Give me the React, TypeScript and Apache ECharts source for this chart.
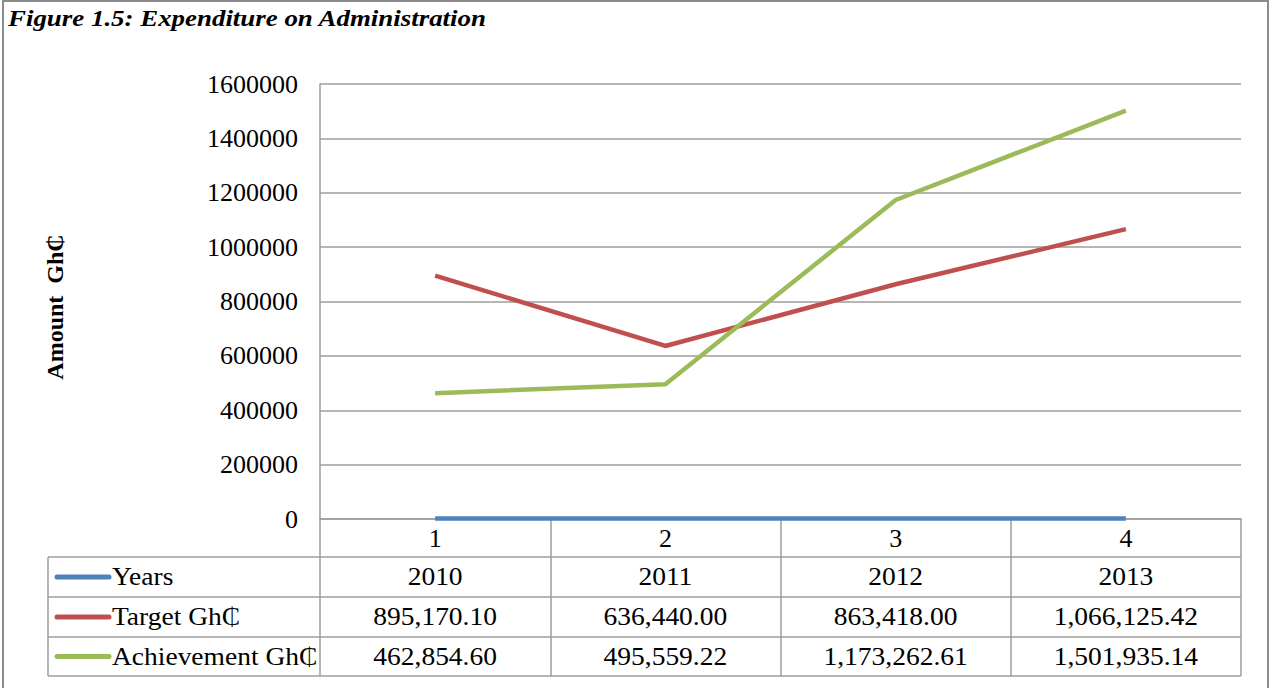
import { useEffect, useRef } from "react";
import * as echarts from "echarts";

// ---- data ----
const titleText = "Figure 1.5: Expenditure on Administration";
const yAxisName = "Amount  Gh\u20B5";
const categories = ["1", "2", "3", "4"];
const seriesNames = ["Years", "Target Gh\u20B5", "Achievement Gh\u20B5"];
const years = [2010, 2011, 2012, 2013];
const target = [895170.1, 636440.0, 863418.0, 1066125.42];
const achievement = [462854.6, 495559.22, 1173262.61, 1501935.14];
const yMin = 0;
const yMax = 1600000;
const yInterval = 200000;
const colors = ["#4F81BD", "#C0504D", "#9BBB59"];

// ---- layout ----
const W = 1270;
const H = 688;
const FONT = "'Liberation Serif', 'Times New Roman', 'DejaVu Serif', serif";
const PLOT_L = 320;
const PLOT_R = 1241;
const PLOT_T = 84;
const PLOT_B = 519;
const TABLE_L = 48;
const ROW_Y = [557, 597, 637, 676];
const GRID_COLOR = "#9d9d9d";
const STRETCH = 1.1;

const fmtMoney = (v: number) =>
  v.toLocaleString("en-US", { minimumFractionDigits: 2, maximumFractionDigits: 2 });

export default function App() {
  const ref = useRef<HTMLDivElement>(null);

  useEffect(() => {
    document.body.style.margin = "0";
    if (!ref.current) return;
    const chart = echarts.init(ref.current, undefined, { renderer: "svg" });

    const allSeries = [years, target, achievement];
    const rowTexts = [
      years.map((v) => String(v)),
      target.map(fmtMoney),
      achievement.map(fmtMoney),
    ];
    const colW = (PLOT_R - PLOT_L) / categories.length;

    const graphics: any[] = [];
    // outer frame
    graphics.push({
      type: "rect",
      shape: { x: 3, y: 1, width: 1265, height: 720 },
      style: { fill: "none", stroke: "#8c8c8c", lineWidth: 2 },
      silent: true,
    });
    // title
    graphics.push({
      type: "text",
      x: 8,
      y: 18,
      scaleX: 1.17,
      style: {
        text: titleText,
        fontFamily: FONT,
        fontSize: 23,
        fontStyle: "italic",
        fontWeight: "bold",
        fill: "#000",
        verticalAlign: "middle",
      },
    });
    // y axis name
    graphics.push({
      type: "text",
      x: 55,
      y: 307,
      rotation: Math.PI / 2,
      style: {
        text: yAxisName,
        fontFamily: FONT,
        fontSize: 24,
        fontWeight: "bold",
        fill: "#000",
        align: "center",
        verticalAlign: "middle",
      },
    });
    // table horizontal lines
    ROW_Y.forEach((y) => {
      graphics.push({
        type: "line",
        shape: { x1: TABLE_L, y1: y, x2: PLOT_R, y2: y },
        style: { stroke: GRID_COLOR, lineWidth: 1.5 },
      });
    });
    // table left border
    graphics.push({
      type: "line",
      shape: { x1: TABLE_L, y1: ROW_Y[0], x2: TABLE_L, y2: ROW_Y[ROW_Y.length - 1] },
      style: { stroke: GRID_COLOR, lineWidth: 1.5 },
    });
    // rows
    seriesNames.forEach((name, r) => {
      const cy = (ROW_Y[r] + ROW_Y[r + 1]) / 2;
      graphics.push({
        type: "line",
        shape: { x1: 57, y1: cy, x2: 109, y2: cy },
        style: { stroke: colors[r], lineWidth: 5, lineCap: "round" },
      });
      graphics.push({
        type: "text",
        x: 112,
        y: cy,
        scaleX: STRETCH,
        style: {
          text: name,
          fontFamily: FONT,
          fontSize: 25,
          fill: "#000",
          verticalAlign: "middle",
        },
      });
      rowTexts[r].forEach((t, c) => {
        graphics.push({
          type: "text",
          x: PLOT_L + colW * (c + 0.5),
          y: cy,
          scaleX: STRETCH,
          style: {
            text: t,
            fontFamily: FONT,
            fontSize: 25,
            fill: "#000",
            align: "center",
            verticalAlign: "middle",
          },
        });
      });
    });

    chart.setOption({
      animation: false,
      backgroundColor: "#fff",
      grid: {
        left: PLOT_L,
        top: PLOT_T,
        width: PLOT_R - PLOT_L,
        height: PLOT_B - PLOT_T,
        containLabel: false,
      },
      xAxis: {
        type: "category",
        data: categories,
        boundaryGap: true,
        axisLine: { show: true, lineStyle: { color: GRID_COLOR, width: 1.5 } },
        axisTick: {
          show: true,
          alignWithLabel: false,
          length: ROW_Y[ROW_Y.length - 1] - PLOT_B,
          lineStyle: { color: GRID_COLOR, width: 1.5 },
        },
        axisLabel: {
          color: "#000",
          fontFamily: FONT,
          fontSize: 26,
          margin: 6,
        },
        splitLine: { show: false },
      },
      yAxis: {
        type: "value",
        min: yMin,
        max: yMax,
        interval: yInterval,
        axisLine: { show: true, lineStyle: { color: GRID_COLOR, width: 1.5 } },
        axisTick: { show: false },
        axisLabel: {
          color: "#000",
          fontFamily: FONT,
          fontSize: 26,
          margin: 22,
          formatter: (v: number) => String(v),
        },
        splitLine: { show: true, lineStyle: { color: GRID_COLOR, width: 1.5 } },
      },
      series: seriesNames.map((name, i) => ({
        name,
        type: "line",
        data: allSeries[i],
        showSymbol: false,
        symbol: "none",
        lineStyle: { color: colors[i], width: 4.5 },
        itemStyle: { color: colors[i] },
        z: 3 + i,
      })),
      graphic: graphics,
    });

    return () => chart.dispose();
  }, []);

  return <div ref={ref} style={{ width: W, height: H }} />;
}
